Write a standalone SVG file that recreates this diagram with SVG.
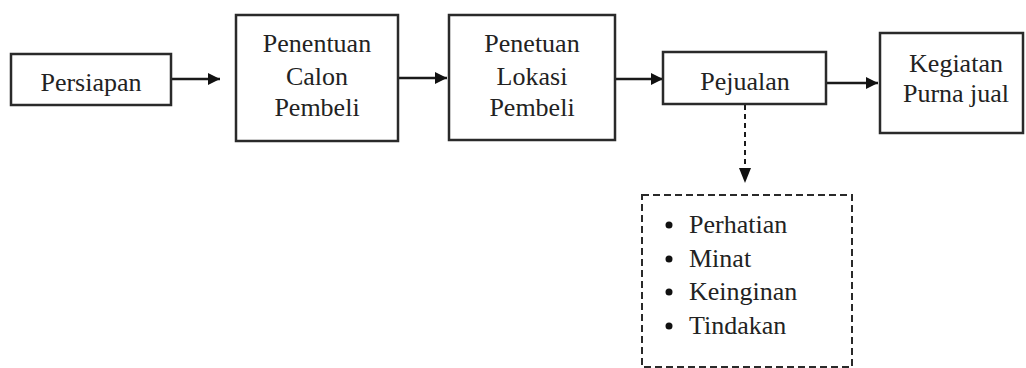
<svg xmlns="http://www.w3.org/2000/svg" width="1026" height="368" viewBox="0 0 1026 368">
<style>
.box{fill:#fff;stroke:#2a2a2a;stroke-width:2.5}
.dbox{fill:#fff;stroke:#2a2a2a;stroke-width:2;stroke-dasharray:7 4}
.t{font-family:"Liberation Serif","Times New Roman",serif;font-size:26px;fill:#222;text-anchor:middle}
.l{font-family:"Liberation Serif","Times New Roman",serif;font-size:26px;fill:#222}
.c{stroke:#1a1a1a;stroke-width:2.5;fill:none}
.cd{stroke:#1a1a1a;stroke-width:2;fill:none;stroke-dasharray:5 4}
</style>
<defs>
<marker id="ah" viewBox="0 0 10 10" refX="10" refY="5" markerWidth="14" markerHeight="12" markerUnits="userSpaceOnUse" orient="auto">
<path d="M0,0 L10,5 L0,10 Z" fill="#111"/>
</marker>
</defs>
<rect width="1026" height="368" fill="#fff"/>
<g id="connectors">
<line class="c" x1="172" y1="79" x2="220" y2="79" marker-end="url(#ah)"/>
<line class="c" x1="398" y1="78" x2="447" y2="78" marker-end="url(#ah)"/>
<line class="c" x1="616" y1="79" x2="663" y2="79" marker-end="url(#ah)"/>
<line class="c" x1="826" y1="83" x2="878" y2="83" marker-end="url(#ah)"/>
<line class="cd" x1="745" y1="105" x2="745" y2="172"/>
<path d="M739,168 L751,168 L745,183 Z" fill="#111"/>
</g>
<g id="persiapan">
<rect class="box" x="11" y="54" width="160" height="51"/>
<text class="t" x="91" y="91">Persiapan</text>
</g>
<g id="penentuan-calon">
<rect class="box" x="236" y="15" width="162" height="126"/>
<text class="t" x="317" y="52">Penentuan</text>
<text class="t" x="317" y="85">Calon</text>
<text class="t" x="317" y="116">Pembeli</text>
</g>
<g id="penetuan-lokasi">
<rect class="box" x="449" y="15" width="166" height="125"/>
<text class="t" x="532" y="52">Penetuan</text>
<text class="t" x="532" y="85">Lokasi</text>
<text class="t" x="532" y="116">Pembeli</text>
</g>
<g id="pejualan">
<rect class="box" x="663" y="52" width="163" height="52"/>
<text class="t" x="745" y="90">Pejualan</text>
</g>
<g id="kegiatan">
<rect class="box" x="880" y="33" width="143" height="100"/>
<text class="t" x="956" y="72">Kegiatan</text>
<text class="t" x="956" y="102">Purna jual</text>
</g>
<g id="list">
<rect class="dbox" x="642" y="195" width="210" height="172"/>
<circle cx="669" cy="225" r="3.5" fill="#111"/>
<circle cx="669" cy="259" r="3.5" fill="#111"/>
<circle cx="669" cy="292" r="3.5" fill="#111"/>
<circle cx="669" cy="326" r="3.5" fill="#111"/>
<text class="l" x="689" y="233">Perhatian</text>
<text class="l" x="689" y="267">Minat</text>
<text class="l" x="689" y="300">Keinginan</text>
<text class="l" x="689" y="334">Tindakan</text>
</g>
</svg>
